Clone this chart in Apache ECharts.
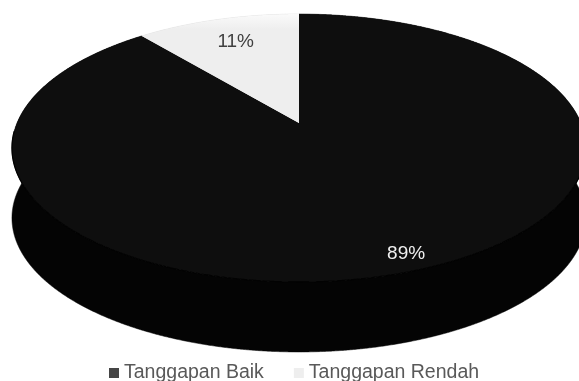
<!DOCTYPE html>
<html>
<head>
<meta charset="utf-8">
<script src="https://cdn.jsdelivr.net/npm/echarts@6/dist/echarts.min.js"></script>
<style>
html,body{margin:0;padding:0;background:#fff;}
#chart{width:579px;height:381px;}
</style>
</head>
<body>
<div id="chart"></div>
<script>
// ---- data ----
const categories = ['Tanggapan Baik', 'Tanggapan Rendah'];
const values = [89, 11];
const legendColors = ['#454545', '#eeeeee'];

// ---- 3D pie layout (perspective projection of a flat disc) ----
const CX = 299, CY = 123;      // projected centre of the top face
const F = 282, G = 129.3, K = 0.1866; // horizontal / vertical scale, perspective
const DEPTH = 70;              // thickness of the disc on screen

const topColors = ['#0e0e0e', null];
const sideColors = ['#040404', '#d8d8d8'];
const labelColors = ['#f0f0f0', '#404040'];
const labelRadius = [0.9, 0.75];
const labelShift = [[5, 1], [0, -1]];

const total = values.reduce((s, v) => s + v, 0);
const starts = [];
values.reduce((acc, v, i) => { starts[i] = acc; return acc + v; }, 0);

function proj(theta, r, drop) {
  const u = r * Math.sin(theta), v = r * Math.cos(theta);
  const w = 1 + K * v;
  return [CX + F * u / w, CY - G * v / w + drop];
}
function arc(a0, a1, drop) {
  const pts = [];
  const n = Math.max(2, Math.ceil((a1 - a0) / (Math.PI / 720)));
  for (let j = 0; j <= n; j++) pts.push(proj(a0 + (a1 - a0) * j / n, 1, drop));
  return pts;
}

function makeRender(i) {
  return function (params, api) {
    const val = api.value(0), st = api.value(1), tot = api.value(2);
    const a0 = st / tot * Math.PI * 2, a1 = (st + val) / tot * Math.PI * 2;
    const topArc = arc(a0, a1, 0);
    const botArc = arc(a0, a1, DEPTH).reverse();
    const children = [];
    // side wall
    children.push({
      type: 'polygon', z2: 1,
      shape: { points: topArc.concat(botArc) },
      style: { fill: sideColors[i], stroke: sideColors[i], lineWidth: 0.5 }
    });
    // top face
    let fill = topColors[i];
    if (!fill) {
      fill = new echarts.graphic.LinearGradient(0, 0, 0, 1, [
        { offset: 0, color: '#fafafa' },
        { offset: 0.14, color: '#eeeeee' },
        { offset: 1, color: '#eeeeee' }
      ]);
    }
    children.push({
      type: 'polygon', z2: 10,
      shape: { points: [proj(0, 0, 0)].concat(topArc) },
      style: { fill: fill }
    });
    // front rim line between top face and side
    const f0 = Math.max(a0, Math.PI * 0.52), f1 = Math.min(a1, Math.PI * 1.48);
    if (f1 > f0) {
      children.push({
        type: 'polyline', z2: 11,
        shape: { points: arc(f0, f1, 0) },
        style: { fill: null, stroke: '#020202', lineWidth: 1.2 }
      });
    }
    // label
    const mid = (a0 + a1) / 2;
    const p = proj(mid, labelRadius[i], 0);
    children.push({
      type: 'text', z2: 50,
      x: p[0] + labelShift[i][0], y: p[1] + labelShift[i][1],
      style: {
        text: Math.round(val / tot * 100) + '%',
        fill: labelColors[i],
        font: '19px "Liberation Sans", Arial, sans-serif',
        align: 'center', verticalAlign: 'middle'
      }
    });
    return { type: 'group', children: children };
  };
}

const chart = echarts.init(document.getElementById('chart'), null, { renderer: 'canvas' });
chart.setOption({
  backgroundColor: '#ffffff',
  animation: false,
  legend: {
    left: 104, top: 358,
    icon: 'rect', itemWidth: 10, itemHeight: 10, itemGap: 30,
    selectedMode: false,
    textStyle: { fontSize: 19.5, color: '#595959', fontFamily: '"Liberation Sans", Arial, sans-serif' },
    data: categories.map((c, i) => ({ name: c, itemStyle: { color: legendColors[i] } }))
  },
  series: categories.map((c, i) => ({
    type: 'custom',
    name: c,
    coordinateSystem: 'none',
    itemStyle: { color: legendColors[i] },
    data: [[values[i], starts[i], total]],
    renderItem: makeRender(i)
  }))
});
</script>
</body>
</html>
